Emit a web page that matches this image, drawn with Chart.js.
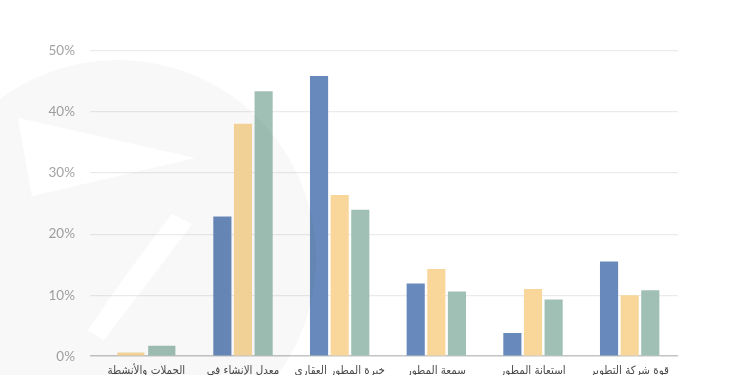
<!DOCTYPE html>
<html lang="ar">
<head>
<meta charset="utf-8">
<script src="https://cdn.jsdelivr.net/npm/chart.js@4.4.1/dist/chart.umd.min.js"></script>
<style>
  html, body { margin: 0; padding: 0; background: #fff; overflow: hidden; }
  #wrap { width: 750px; height: 386px; }
</style>
</head>
<body>
<div id="wrap"><canvas id="c" width="750" height="386"></canvas></div>
<script>
const categories = [
  "الحملات والأنشطة",
  "معدل الإنشاء في",
  "خبرة المطور العقاري",
  "سمعة المطور",
  "استعانة المطور",
  "قوة شركة التطوير"
];
const seriesNames = ["السلسلة 1", "السلسلة 2", "السلسلة 3"];
const seriesBlue   = [null, 22.9, 45.9, 11.9, 3.8, 15.5];
const seriesYellow = [0.6, 38.1, 26.4, 14.3, 11.0, 10.0];
const seriesTeal   = [1.7, 43.4, 24.0, 10.6, 9.3, 10.8];
const yTicks = [0, 10, 20, 30, 40, 50];

const watermark = {
  id: 'watermark',
  afterDraw(chart) {
    const ctx = chart.ctx;
    ctx.save();
    ctx.fillStyle = 'rgba(0,0,0,0.026)';
    ctx.beginPath();
    ctx.arc(118, 258, 198, 0, Math.PI * 2);
    ctx.closePath();
    // white triangular cut
    ctx.moveTo(18, 118);
    ctx.lineTo(195, 158);
    ctx.lineTo(32, 196);
    ctx.closePath();
    // white curved band cut
    ctx.moveTo(172, 214);
    ctx.lineTo(192, 224);
    ctx.quadraticCurveTo(142, 290, 104, 340);
    ctx.lineTo(88, 330);
    ctx.quadraticCurveTo(125, 275, 172, 214);
    ctx.closePath();
    ctx.fill('evenodd');
    ctx.restore();
  }
};

new Chart(document.getElementById('c'), {
  type: 'bar',
  data: {
    labels: categories,
    datasets: [
      { label: seriesNames[0], data: seriesBlue,   backgroundColor: '#6889bb' },
      { label: seriesNames[1], data: seriesYellow, backgroundColor: '#f9d79b' },
      { label: seriesNames[2], data: seriesTeal,   backgroundColor: '#a0c0b5' }
    ]
  },
  options: {
    responsive: false,
    animation: false,
    devicePixelRatio: 1,
    skipNull: true,
    categoryPercentage: 0.64,
    barPercentage: 0.88,
    layout: { padding: { top: 51, right: 72, bottom: 0, left: 0 } },
    plugins: { legend: { display: false }, tooltip: { enabled: false } },
    scales: {
      x: {
        grid: { display: false, drawTicks: false },
        border: { display: false },
        ticks: {
          padding: 8,
          color: '#4a4a4a',
          font: { family: 'DejaVu Sans Condensed', size: 11.5 },
          maxRotation: 0, autoSkip: false
        }
      },
      y: {
        min: 0, max: 50,
        afterFit(scale) { scale.width = 98; },
        afterBuildTicks(scale) { scale.ticks = yTicks.map(v => ({ value: v })); },
        grid: {
          color: ctx => (ctx.tick && ctx.tick.value === 0) ? '#c4c4c4' : '#ebebeb',
          lineWidth: ctx => (ctx.tick && ctx.tick.value === 0) ? 1.5 : 1.2,
          drawTicks: true, tickLength: 8,
          tickColor: ctx => (ctx.tick && ctx.tick.value === 0) ? '#c4c4c4' : '#ebebeb'
        },
        border: { display: false },
        ticks: {
          padding: 15,
          color: '#a3a3a3',
          font: { family: 'Lato', size: 13.5 },
          callback: v => v + '%'
        }
      }
    }
  },
  plugins: [watermark]
});
</script>
</body>
</html>
